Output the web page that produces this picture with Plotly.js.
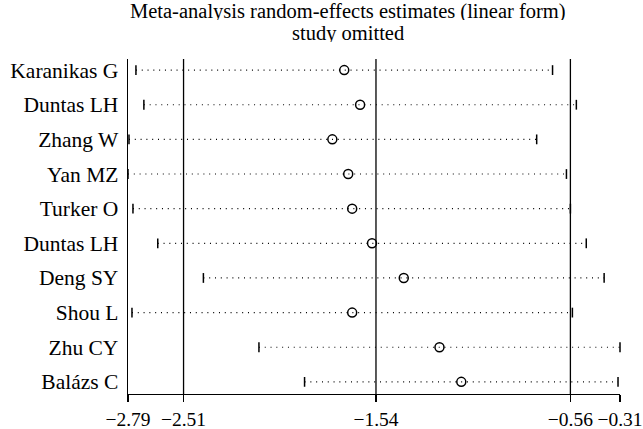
<!DOCTYPE html>
<html><head><meta charset="utf-8">
<script src="https://cdn.plot.ly/plotly-3.0.1.min.js"></script>
<style>html,body{margin:0;padding:0;background:#fff}</style>
</head><body>
<div id="chart" style="width:643px;height:429px"></div>
<script>
const studies = ["Karanikas G","Duntas LH","Zhang W","Yan MZ","Turker O","Duntas LH","Deng SY","Shou L","Zhu CY","Balázs C"];
const estimates = [-1.70,-1.62,-1.76,-1.68,-1.66,-1.56,-1.40,-1.66,-1.22,-1.11];
const lowerCI = [-2.75,-2.71,-2.785,-2.79,-2.765,-2.64,-2.41,-2.77,-2.13,-1.90];
const upperCI = [-0.65,-0.53,-0.73,-0.58,-0.56,-0.48,-0.39,-0.55,-0.31,-0.32];
const refLines = [-2.51,-1.54,-0.56];
const xTicks = [-2.79,-2.51,-1.54,-0.56,-0.31];
const titleLines = ["Meta-analysis random-effects estimates (linear form)","study omitted"];

const idx = studies.map((_, i) => i);
const FONT = "Liberation Serif, Times New Roman, serif";

const wx = [], wy = [];
idx.forEach(i => { wx.push(lowerCI[i], upperCI[i], null); wy.push(i, i, null); });

const traces = [
  {type:'scatter', mode:'lines', x:wx, y:wy, hoverinfo:'skip', cliponaxis:false,
   line:{color:'#000', width:1.2, dash:'1px,4.8px'}},
  {type:'scatter', mode:'markers', x:lowerCI.concat(upperCI), y:idx.concat(idx), cliponaxis:false,
   marker:{symbol:'line-ns', size:7, color:'#000', line:{color:'#000', width:1.5}}},
  {type:'scatter', mode:'markers', x:estimates, y:idx, cliponaxis:false,
   marker:{symbol:'circle-open', size:9, color:'#000', line:{color:'#000', width:1.5}}}
];

const layout = {
  width:643, height:429,
  margin:{l:128, r:23, t:59, b:35},
  paper_bgcolor:'#fff', plot_bgcolor:'#fff',
  showlegend:false,
  font:{family:FONT, color:'#000', size:21.5},
  xaxis:{range:[-2.79,-0.31], tickvals:xTicks, tickformat:'.2f', showline:true, linecolor:'#000', linewidth:1.3,
         ticks:'outside', ticklen:7, tickwidth:1.3, tickcolor:'#000', showgrid:false, zeroline:false,
         ticklabeloverflow:'allow', tickfont:{family:FONT, size:19.5, color:'#000'}},
  yaxis:{range:[9.35,-0.32], tickvals:idx, ticktext:studies, showline:true, linecolor:'#000', linewidth:1.3,
         ticks:'outside', ticklen:4, tickcolor:'rgba(0,0,0,0)', showgrid:false, zeroline:false,
         tickfont:{family:FONT, size:21.5, color:'#000'}},
  shapes: refLines.map(v => ({type:'line', xref:'x', yref:'paper', x0:v, x1:v, y0:0, y1:1,
                              line:{color:'#000', width:1.3}})),
  annotations: titleLines.map((t, k) => ({text:t, xref:'paper', yref:'paper', x:0.448, y:[1.1445,1.079][k],
     xanchor:'center', yanchor:'middle', height:18, valign:'middle', showarrow:false,
     font:{family:FONT, size:20.5, color:'#000'}}))
};

Plotly.newPlot('chart', traces, layout, {staticPlot:true, displayModeBar:false});
</script>
</body></html>
